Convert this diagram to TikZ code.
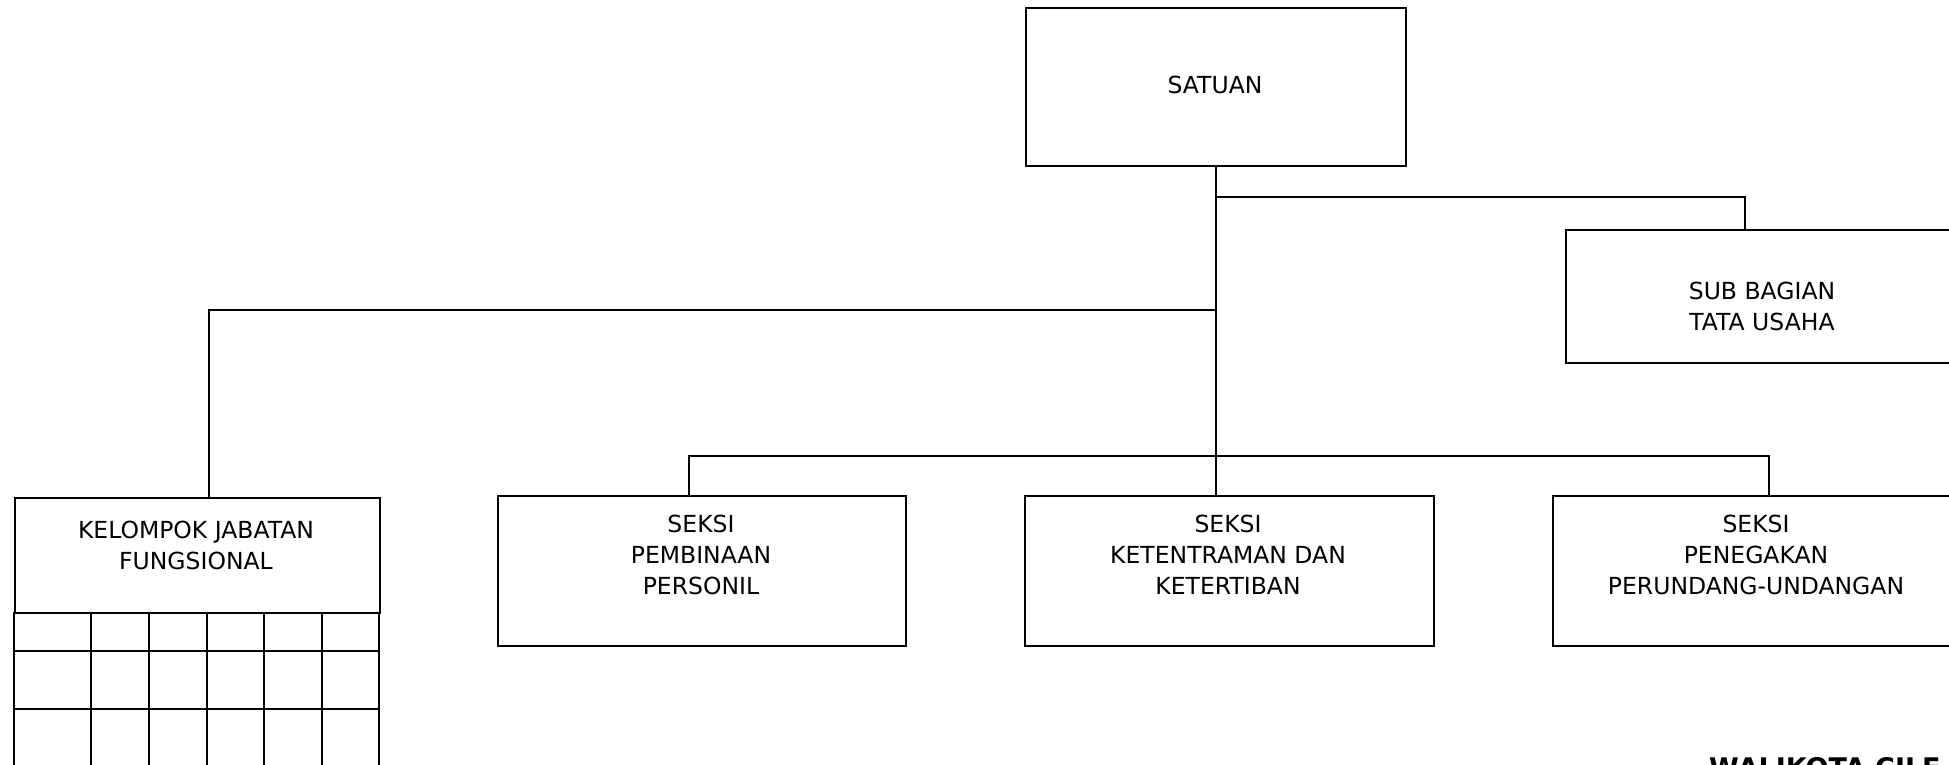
\documentclass[tikz,border=0pt]{standalone}
\usepackage{fontspec}
\setmainfont{DejaVu Sans}
\usepackage{tikz}
\usetikzlibrary{positioning}

\begin{document}
\begin{tikzpicture}[x=1pt,y=-1pt,
	box/.style={draw,line width=2.4pt,inner sep=0pt,anchor=north west},
	txt/.style={align=center,inner sep=0pt,font=\fontsize{23.5}{31}\selectfont},
	link/.style={line width=1.8pt},
	cell/.style={line width=2pt}]
		\useasboundingbox (0,0) rectangle (1949,765);
		\fill[white] (0,0) rectangle (1949,765);
		
		% boxes
		\node[box,minimum width=380pt,minimum height=158pt] (satuan) at (1025,7) {};
		\node[box,minimum width=400pt,minimum height=133pt] (tatausaha) at (1565,229) {};
		\node[box,minimum width=365pt,minimum height=115pt] (kjf) at (14,497) {};
		\node[box,minimum width=408pt,minimum height=150pt] (seksiA) at (497,495) {};
		\node[box,minimum width=409pt,minimum height=150pt] (seksiB) at (1024,495) {};
		\node[box,minimum width=409pt,minimum height=150pt] (seksiC) at (1552,495) {};
		
		\node[txt] (satuanTxt) at (1215,85) {SATUAN};
		\node[txt] (tatausahaTxt) at (1762,306) {SUB BAGIAN\\TATA USAHA};
		\node[txt] (kjfTxt) at (196,545) {KELOMPOK JABATAN\\FUNGSIONAL};
		\node[txt] (seksiATxt) at (701,555) {SEKSI\\PEMBINAAN\\PERSONIL};
		\node[txt] (seksiBTxt) at (1228,555) {SEKSI\\KETENTRAMAN DAN\\KETERTIBAN};
		\node[txt] (seksiCTxt) at (1756,555) {SEKSI\\PENEGAKAN\\PERUNDANG-UNDANGAN};
		
		% grid under the kelompok box
		\foreach \x in {14,91,149,207,264,322,379}
			\draw[cell] (\x,612) -- (\x,770);
		\foreach \y in {651,709}
			\draw[cell] (14,\y) -- (379,\y);
		
		% connectors
		\coordinate (root) at (1216,165);
		\coordinate (jTU) at (1216,197);
		\coordinate (jKJF) at (1216,310);
		\coordinate (dTU) at (1745,229);
		\coordinate (dKJF) at (209,497);
		\coordinate (dA) at (689,495);
		\coordinate (dC) at (1769,495);
		\coordinate (bus) at (0,456);
		
		\draw[link] (root) -- (root |- seksiB.north);
		\draw[link] (jTU) -| (dTU);
		\draw[link] (jKJF) -| (dKJF);
		\draw[link] (dA) |- (dC |- bus) -- (dC);
		
		\node[anchor=base west,inner sep=0pt,font=\fontsize{27}{32}\selectfont\bfseries] (walikota) at (1709,777) {WALIKOTA CILE};
		
\end{tikzpicture}
\end{document}
